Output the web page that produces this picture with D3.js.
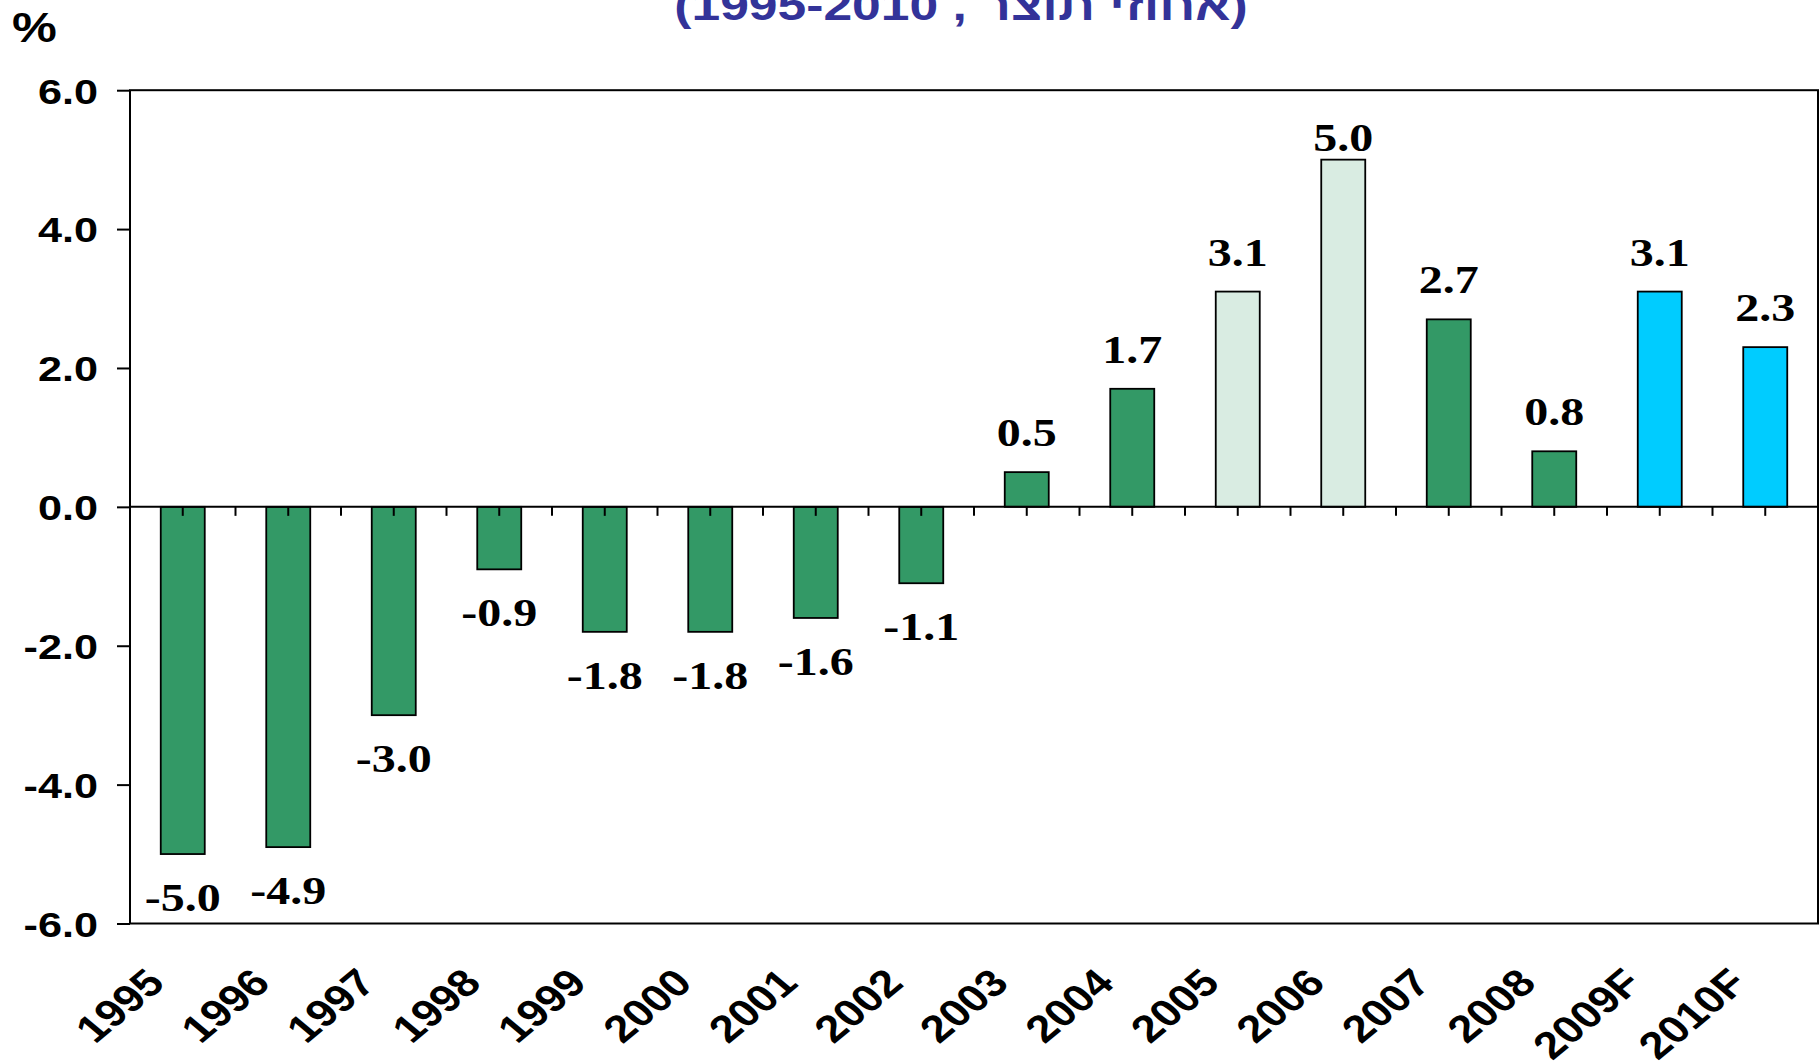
<!DOCTYPE html>
<html>
<head>
<meta charset="utf-8">
<script src="https://cdn.jsdelivr.net/npm/d3@7"></script>
<style>
  html, body { margin: 0; padding: 0; background: #ffffff; }
  svg { display: block; }
</style>
</head>
<body>
<svg id="chart" width="1820" height="1061"></svg>
<script>
// ---- data ----
const categories = ["1995","1996","1997","1998","1999","2000","2001","2002","2003","2004","2005","2006","2007","2008","2009F","2010F"];
const values = [-5.0,-4.9,-3.0,-0.9,-1.8,-1.8,-1.6,-1.1,0.5,1.7,3.1,5.0,2.7,0.8,3.1,2.3];
const groups = ["a","a","a","a","a","a","a","a","a","a","b","b","a","a","f","f"];
const yTicks = [-6,-4,-2,0,2,4,6];
const titleText = "(אחוזי תוצר , 1995-2010)";
const unitText = "%";

// ---- layout ----
const W = 1820, H = 1061;
const plot = {left: 130, right: 1818, top: 90.2, bottom: 923.5};
const SX = 1.2; // horizontal stretch of the original artwork
const SANS = "'Liberation Sans', Arial, Helvetica, sans-serif";
const SERIF = "'Liberation Serif', 'Times New Roman', Times, serif";
const svg = d3.select("#chart");
svg.append("rect").attr("width", W).attr("height", H).attr("fill", "#fff");

const y = d3.scaleLinear().domain([-6, 6]).range([plot.bottom, plot.top]);
const pIn = 1 - 44 / 105.5;
const x = d3.scaleBand().domain(categories).range([plot.left, plot.right])
  .paddingInner(pIn).paddingOuter(pIn / 2);
const color = d3.scaleOrdinal().domain(["a","b","f"]).range(["#339966","#d9ece2","#00ccff"]);
const fmt = d => d.toFixed(1);

// title (cut off at top in original)
svg.append("text")
  .attr("transform", `translate(961,20) scale(${SX},1)`)
  .attr("text-anchor", "middle")
  .attr("direction", "rtl")
  .style("font-family", SANS)
  .attr("font-weight", "bold")
  .attr("font-size", 43)
  .attr("fill", "#333399")
  .text(titleText);

// unit label
svg.append("text")
  .attr("transform", `translate(12,42) scale(${SX},1)`)
  .style("font-family", SANS)
  .attr("font-weight", "bold")
  .attr("font-size", 42)
  .attr("fill", "#000")
  .text(unitText);

// bars
const zero = y(0);
svg.append("g").selectAll("rect").data(values).join("rect")
  .attr("x", (d, i) => x(categories[i]))
  .attr("width", x.bandwidth())
  .attr("y", d => Math.min(y(d), zero))
  .attr("height", d => Math.abs(y(d) - zero))
  .attr("fill", (d, i) => color(groups[i]))
  .attr("stroke", "#000")
  .attr("stroke-width", 1.8);

// y axis
const yAxis = svg.append("g").attr("transform", `translate(${plot.left},0)`)
  .call(d3.axisLeft(y).tickValues(yTicks).tickFormat(fmt).tickSize(13).tickSizeOuter(0));
yAxis.select(".domain").remove();
yAxis.selectAll("line").attr("stroke", "#000").attr("stroke-width", 2);
yAxis.attr("font-family", null).attr("font-size", null);
yAxis.selectAll("text")
  .attr("x", null).attr("dy", null)
  .attr("transform", `translate(-32,12.9) scale(${SX},1)`)
  .style("font-family", SANS)
  .attr("font-weight", "bold")
  .attr("font-size", 36)
  .attr("fill", "#000");

// plot border
svg.append("rect")
  .attr("x", plot.left).attr("y", plot.top)
  .attr("width", plot.right - plot.left).attr("height", plot.bottom - plot.top)
  .attr("fill", "none").attr("stroke", "#000").attr("stroke-width", 2);

// category axis at zero with half-step ticks
const step = x.step();
const tickXs = d3.range(1, categories.length * 2).map(k => plot.left + k * step / 2);
svg.append("line").attr("x1", plot.left).attr("x2", plot.right)
  .attr("y1", zero).attr("y2", zero).attr("stroke", "#000").attr("stroke-width", 2);
svg.append("g").selectAll("line").data(tickXs).join("line")
  .attr("x1", d => d).attr("x2", d => d)
  .attr("y1", zero).attr("y2", zero + 9)
  .attr("stroke", "#000").attr("stroke-width", 2);

// data labels
svg.append("g").selectAll("text").data(values).join("text")
  .attr("transform", (d, i) => {
    const cx = x(categories[i]) + x.bandwidth() / 2;
    const by = d >= 0 ? Math.max(y(d) - 26, plot.top + 61) : y(d) + 57;
    return `translate(${cx},${by}) scale(${SX},1)`;
  })
  .attr("text-anchor", "middle")
  .style("font-family", SERIF)
  .attr("font-weight", "bold")
  .attr("font-size", 40)
  .attr("fill", "#000")
  .text(fmt);

// category labels (rotated)
svg.append("g").selectAll("text").data(categories).join("text")
  .attr("transform", d => `translate(${x(d) + x.bandwidth() / 2 - 16},985) scale(${SX},1) rotate(-45)`)
  .attr("text-anchor", "end")
  .style("font-family", SANS)
  .attr("font-weight", "bold")
  .attr("font-size", 38)
  .attr("fill", "#000")
  .text(d => d);
</script>
</body>
</html>
